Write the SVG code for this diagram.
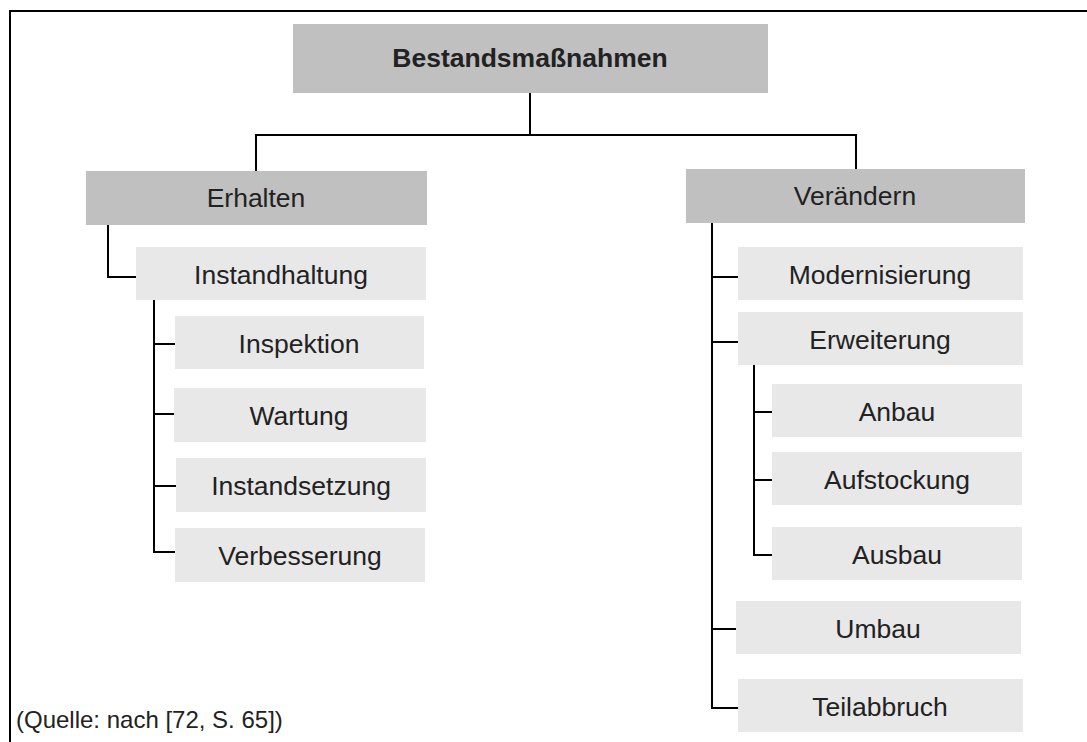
<svg xmlns="http://www.w3.org/2000/svg" width="1087" height="742" viewBox="0 0 1087 742">
<style>
.dark{fill:#c0c0c0}
.light{fill:#e8e8e8}
.t{font-family:"Liberation Sans",Arial,sans-serif;font-size:26.5px;fill:#222;text-anchor:middle}
.b{font-weight:bold;font-size:26.5px}
.c{font-family:"Liberation Sans",Arial,sans-serif;font-size:24px;fill:#222}
.ln{fill:none;stroke:#000;stroke-width:2}
</style>
<rect width="1087" height="742" fill="#fff"/>
<path class="ln" d="M10,742 V11 H1087"/>
<g id="connectors">
<path class="ln" d="M530,93 V135 M256,171 V135 H856 V169"/>
<path class="ln" d="M108,225 V277 H136"/>
<path class="ln" d="M154,300 V552 H175 M154,344 H175 M154,414 H174 M154,486 H176"/>
<path class="ln" d="M712,223 V708 H738 M712,277 H738 M712,342 H738 M712,629 H736"/>
<path class="ln" d="M754,365 V555 H772 M754,412 H772 M754,480 H772"/>
</g>
<g id="n-bestand"><rect class="dark" x="293" y="24" width="475" height="69"/><text class="t b" x="530" y="67">Bestandsmaßnahmen</text></g>
<g id="n-erhalten"><rect class="dark" x="86" y="171" width="341" height="54"/><text class="t" x="256" y="207">Erhalten</text></g>
<g id="n-veraendern"><rect class="dark" x="686" y="169" width="339" height="54"/><text class="t" x="855" y="205">Verändern</text></g>
<g id="n-instandhaltung"><rect class="light" x="136" y="247" width="290" height="53"/><text class="t" x="281" y="284">Instandhaltung</text></g>
<g id="n-inspektion"><rect class="light" x="175" y="316" width="249" height="53"/><text class="t" x="299" y="353">Inspektion</text></g>
<g id="n-wartung"><rect class="light" x="174" y="388" width="252" height="54"/><text class="t" x="299" y="425">Wartung</text></g>
<g id="n-instandsetzung"><rect class="light" x="176" y="458" width="250" height="54"/><text class="t" x="301" y="495">Instandsetzung</text></g>
<g id="n-verbesserung"><rect class="light" x="175" y="528" width="250" height="54"/><text class="t" x="300" y="565">Verbesserung</text></g>
<g id="n-modernisierung"><rect class="light" x="738" y="247" width="285" height="53"/><text class="t" x="880" y="284">Modernisierung</text></g>
<g id="n-erweiterung"><rect class="light" x="738" y="312" width="285" height="53"/><text class="t" x="880" y="349">Erweiterung</text></g>
<g id="n-anbau"><rect class="light" x="772" y="384" width="250" height="53"/><text class="t" x="897" y="421">Anbau</text></g>
<g id="n-aufstockung"><rect class="light" x="772" y="452" width="250" height="53"/><text class="t" x="897" y="489">Aufstockung</text></g>
<g id="n-ausbau"><rect class="light" x="772" y="527" width="250" height="53"/><text class="t" x="897" y="564">Ausbau</text></g>
<g id="n-umbau"><rect class="light" x="736" y="601" width="285" height="53"/><text class="t" x="878" y="638">Umbau</text></g>
<g id="n-teilabbruch"><rect class="light" x="738" y="679" width="285" height="53"/><text class="t" x="880" y="716">Teilabbruch</text></g>
<text class="c" x="16" y="728">(Quelle: nach [72, S. 65])</text>
</svg>
